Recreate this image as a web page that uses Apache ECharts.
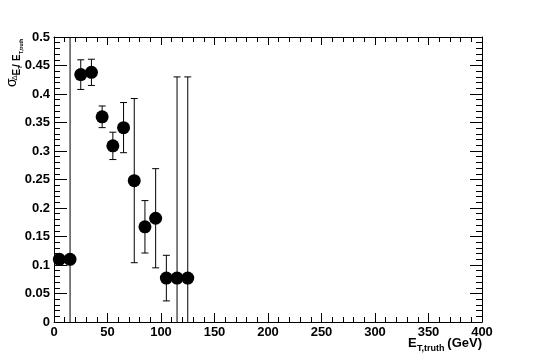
<!DOCTYPE html>
<html>
<head>
<meta charset="utf-8">
<script src="https://cdn.jsdelivr.net/npm/echarts@6/dist/echarts.min.js"></script>
<style>
html,body{margin:0;padding:0;background:#fff;}
#chart{width:536px;height:358px;}
</style>
</head>
<body>
<div id="chart"></div>
<script>
// Bin centres (GeV)
var xValues = [5, 15, 25, 35, 45, 55, 65, 75, 85, 95, 105, 115, 125];
// sigma values
var yValues = [0.110, 0.110, 0.434, 0.438, 0.360, 0.309, 0.341, 0.248, 0.167, 0.182, 0.077, 0.077, 0.077];
// symmetric errors
var yErrors = [0.004, 0.45, 0.026, 0.023, 0.019, 0.024, 0.044, 0.144, 0.046, 0.087, 0.040, 0.353, 0.353];
var xTickLabels = ['0', '50', '100', '150', '200', '250', '300', '350', '400'];
var yTickLabels = ['0', '0.05', '0.1', '0.15', '0.2', '0.25', '0.3', '0.35', '0.4', '0.45', '0.5'];

var X_MIN = 0, X_MAX = 400, Y_MIN = 0, Y_MAX = 0.5;
var FONT = '"Liberation Sans", Arial, sans-serif';

var chart = echarts.init(document.getElementById('chart'), null, {renderer: 'canvas'});

var pointData = xValues.map(function (x, i) { return [x, yValues[i], yErrors[i]]; });

function axisCommon(extra) {
  var base = {
    type: 'value',
    axisLine: {show: true, onZero: false, lineStyle: {color: '#000', width: 1}},
    splitLine: {show: false},
    minorSplitLine: {show: false}
  };
  for (var k in extra) base[k] = extra[k];
  return base;
}

function rotText(x, y, text, font) {
  return {type: 'text', x: x, y: y, rotation: Math.PI / 2,
    style: {text: text, font: font, fill: '#000', textAlign: 'left', textVerticalAlign: 'middle'}};
}

var option = {
  backgroundColor: '#ffffff',
  animation: false,
  grid: {left: 54, right: 54, top: 37, bottom: 36, containLabel: false},
  xAxis: [
    axisCommon({
      position: 'bottom', min: X_MIN, max: X_MAX, interval: 50,
      axisTick: {show: true, inside: true, length: 9, lineStyle: {color: '#000'}},
      minorTick: {show: true, splitNumber: 5, length: 5, lineStyle: {color: '#000'}},
      axisLabel: {
        show: true, margin: 4, color: '#000', fontFamily: FONT, fontWeight: 'bold', fontSize: 13,
        showMinLabel: true, showMaxLabel: true,
        formatter: function (v) { return xTickLabels[Math.round(v / 50)]; }
      }
    }),
    axisCommon({
      position: 'top', min: X_MIN, max: X_MAX, interval: 50,
      axisTick: {show: true, inside: true, length: 8, lineStyle: {color: '#000'}},
      minorTick: {show: true, splitNumber: 5, length: 5, lineStyle: {color: '#000'}},
      axisLabel: {show: false}
    })
  ],
  yAxis: [
    axisCommon({
      position: 'left', min: Y_MIN, max: Y_MAX, interval: 0.05,
      axisTick: {show: true, inside: true, length: 13, lineStyle: {color: '#000'}},
      minorTick: {show: true, splitNumber: 5, length: 6, lineStyle: {color: '#000'}},
      axisLabel: {
        show: true, margin: 4, color: '#000', fontFamily: FONT, fontWeight: 'bold', fontSize: 13,
        showMinLabel: true, showMaxLabel: true,
        formatter: function (v) { return yTickLabels[Math.round(v / 0.05)]; }
      }
    }),
    axisCommon({
      position: 'right', min: Y_MIN, max: Y_MAX, interval: 0.05,
      axisTick: {show: true, inside: true, length: 12, lineStyle: {color: '#000'}},
      minorTick: {show: true, splitNumber: 5, length: 6, lineStyle: {color: '#000'}},
      axisLabel: {show: false}
    })
  ],
  series: [
    {
      type: 'custom',
      xAxisIndex: 0, yAxisIndex: 0,
      data: pointData,
      silent: true,
      z: 2,
      renderItem: function (params, api) {
        var x = api.value(0), y = api.value(1), e = api.value(2);
        var lo = y - e, hi = y + e;
        var loC = Math.max(lo, Y_MIN), hiC = Math.min(hi, Y_MAX);
        var pLo = api.coord([x, loC]);
        var pHi = api.coord([x, hiC]);
        var cap = 3.5;
        var children = [{
          type: 'line',
          shape: {x1: pLo[0], y1: pLo[1], x2: pHi[0], y2: pHi[1]},
          style: {stroke: '#000', lineWidth: 1}
        }];
        if (lo >= Y_MIN) children.push({type: 'line', shape: {x1: pLo[0] - cap, y1: pLo[1], x2: pLo[0] + cap, y2: pLo[1]}, style: {stroke: '#000', lineWidth: 1}});
        if (hi <= Y_MAX) children.push({type: 'line', shape: {x1: pHi[0] - cap, y1: pHi[1], x2: pHi[0] + cap, y2: pHi[1]}, style: {stroke: '#000', lineWidth: 1}});
        return {type: 'group', children: children};
      }
    },
    {
      type: 'scatter',
      xAxisIndex: 0, yAxisIndex: 0,
      data: pointData.map(function (d) { return [d[0], d[1]]; }),
      symbol: 'circle',
      symbolSize: 13,
      clip: false,
      itemStyle: {color: '#000', opacity: 1},
      z: 3,
      silent: true
    }
  ],
  graphic: [
    // X-axis title
    {type: 'text', x: 408, y: 343, style: {text: 'E', font: 'bold 13px ' + FONT, fill: '#000', textAlign: 'left', textVerticalAlign: 'middle'}},
    {type: 'text', x: 417, y: 349, style: {text: 'T,truth', font: 'bold 9px ' + FONT, fill: '#000', textAlign: 'left', textVerticalAlign: 'middle'}},
    {type: 'text', x: 482, y: 343, style: {text: '(GeV)', font: 'bold 13px ' + FONT, fill: '#000', textAlign: 'right', textVerticalAlign: 'middle'}},
    // Y-axis title (rotated)
    rotText(12, 87, 'σ', '14px ' + FONT),
    rotText(14.5, 80.5, 'Δ', '8px ' + FONT),
    rotText(17, 75.5, 'E', 'bold 10px ' + FONT),
    rotText(20.5, 69, 'T', 'bold 6px ' + FONT),
    rotText(17, 67, '/', 'bold 10px ' + FONT),
    rotText(17, 61, 'E', 'bold 10px ' + FONT),
    rotText(21.5, 54, 'T,truth', 'bold 5px ' + FONT)
  ]
};

chart.setOption(option);
</script>
</body>
</html>
